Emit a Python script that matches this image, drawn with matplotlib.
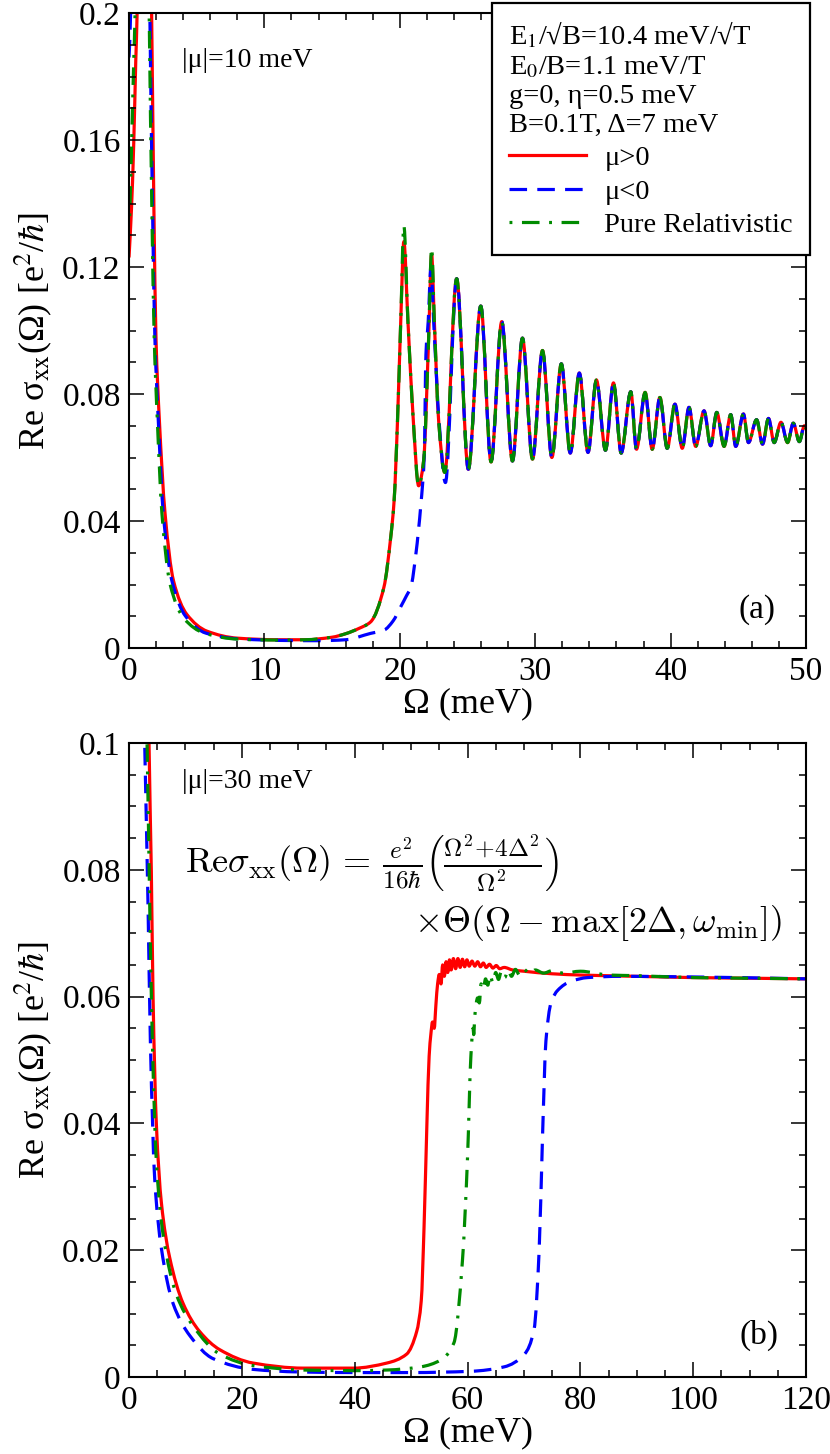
import matplotlib
matplotlib.use('Agg')
import matplotlib.pyplot as plt
from matplotlib.lines import Line2D
from matplotlib.path import Path
from matplotlib.patches import PathPatch
from matplotlib.ticker import MultipleLocator, FuncFormatter

plt.rcParams['font.family'] = ['Liberation Serif', 'DejaVu Serif']
plt.rcParams['mathtext.fontset'] = 'stix'

# ---- panel (a): |mu| = 10 meV ----
# shared Landau-level oscillation tail (peaks / troughs)
osc_x = [24.2, 25.06, 25.98, 26.74, 27.53, 28.32, 29.06, 29.8, 30.54, 31.23,
         31.93, 32.59, 33.26, 33.9, 34.52, 35.19, 35.78, 36.35, 37.06, 37.48,
         38.12, 38.64, 39.21, 39.75, 40.32, 40.86, 41.36, 41.85, 42.47, 42.96,
         43.41, 43.95, 44.44, 44.81, 45.38, 45.75, 46.35, 46.79, 47.23, 47.65,
         48.15, 48.64, 49.06, 49.51, 49.88, 50.0]
osc_y = [0.1163, 0.0563, 0.1077, 0.0586, 0.1028, 0.0589, 0.0976, 0.0595, 0.0937, 0.0600,
         0.0895, 0.0614, 0.0866, 0.0616, 0.0844, 0.0623, 0.0835, 0.0614, 0.0807, 0.0626,
         0.0805, 0.0626, 0.0789, 0.0629, 0.0768, 0.0629, 0.0758, 0.0635, 0.0747, 0.0637,
         0.0742, 0.0635, 0.0735, 0.0635, 0.0737, 0.0647, 0.0719, 0.0642, 0.0723, 0.0647,
         0.0711, 0.0647, 0.0708, 0.0650, 0.0700, 0.0690]

a_pos_x = [0.0, 0.18, 0.35, 0.5, 0.6, 0.65, 1.62, 1.67, 1.84, 1.99, 2.24, 2.66, 3.28,
           4.27, 5.76, 8.0, 11.0, 13.0, 15.0, 16.0, 17.0, 17.84, 18.83, 19.33, 19.58,
           19.83, 20.07, 20.3, 20.6, 21.0, 21.39, 21.76, 22.13, 22.35, 22.55, 22.87, 23.32]
a_pos_y = [0.123, 0.138, 0.159, 0.185, 0.200, 0.215, 0.215, 0.200, 0.138, 0.098, 0.072, 0.0425, 0.0213,
           0.0106, 0.0053, 0.0031, 0.0026, 0.0026, 0.0034, 0.0045, 0.0062, 0.0082, 0.0192, 0.0349, 0.0464,
           0.0715, 0.103, 0.128, 0.103, 0.0715, 0.0511, 0.059, 0.0976, 0.124, 0.103, 0.0715, 0.0553]

a_neg_x = [0.0, 0.12, 0.16, 1.50, 1.54, 1.74, 1.91, 2.16, 2.53, 3.16, 4.18, 5.67, 8.0,
           11.0, 14.0, 16.0, 17.84, 18.83, 19.5, 20.07, 20.5, 20.82, 21.19, 21.56, 21.81,
           21.93, 22.1, 22.3, 22.5, 22.9, 23.37]
a_neg_y = [0.186, 0.200, 0.215, 0.215, 0.200, 0.138, 0.098, 0.072, 0.0425, 0.0213, 0.0100, 0.0047, 0.0029,
           0.0024, 0.0023, 0.0026, 0.0046, 0.0056, 0.0085, 0.013, 0.0165, 0.0192, 0.0297, 0.0454, 0.061,
           0.0924, 0.103, 0.120, 0.103, 0.0715, 0.0521]

a_rel_x = [0.05, 0.2, 0.35, 0.45, 0.5, 1.45, 1.49, 1.69, 1.86, 2.09, 2.43, 3.04, 4.06,
           5.55, 8.0, 11.0, 13.0, 15.0, 16.0, 17.0, 17.84, 18.83, 19.33, 19.58, 19.83,
           20.07, 20.3, 20.6, 21.0, 21.39, 21.76, 22.13, 22.35, 22.55, 22.87, 23.32]
a_rel_y = [0.136, 0.160, 0.185, 0.200, 0.215, 0.215, 0.200, 0.138, 0.098, 0.072, 0.0425, 0.020, 0.0093,
           0.0047, 0.0028, 0.0025, 0.0026, 0.0034, 0.0045, 0.0062, 0.0082, 0.0192, 0.0349, 0.0464, 0.0715,
           0.103, 0.133, 0.103, 0.0715, 0.0511, 0.059, 0.0976, 0.126, 0.103, 0.0715, 0.0553]

# ---- panel (b): |mu| = 30 meV ----
b_pos_x = [3.45, 3.55, 3.96, 4.26, 4.85, 5.74, 7.22, 9.59, 12.5, 16.1, 22.0, 30.9, 39.8,
           45.7, 49.2, 51.0, 51.8, 52.3, 52.8, 53.2, 53.5, 53.8, 54.1, 54.4, 54.7,
           55.0, 55.3, 55.6, 55.9, 56.2, 56.5, 56.8, 57.1, 57.5, 57.9, 58.3, 58.7,
           59.1, 59.5, 59.9, 60.3, 60.8, 61.3, 61.8, 62.3, 62.8, 63.3, 63.9, 64.5,
           65.1, 65.7, 66.5, 68.0, 70.0, 75.0, 80.0, 90.0, 100.0, 110.0, 120.0]
b_pos_y = [0.108, 0.100, 0.0797, 0.0601, 0.0399, 0.0275, 0.0188, 0.0116, 0.0072, 0.0043, 0.0022, 0.0014, 0.0014,
           0.0022, 0.0036, 0.0072, 0.012, 0.0237, 0.0398, 0.0506, 0.054, 0.056, 0.055, 0.0587, 0.062,
           0.0635, 0.0620, 0.0650, 0.0632, 0.0655, 0.0638, 0.0658, 0.0642, 0.0660, 0.0644, 0.0660, 0.0646,
           0.0659, 0.0647, 0.0658, 0.0648, 0.0656, 0.0648, 0.0655, 0.0647, 0.0653, 0.0646, 0.0651, 0.0645,
           0.0649, 0.0644, 0.0646, 0.0642, 0.0640, 0.0636, 0.0634, 0.0632, 0.0630, 0.0629, 0.0628]

b_neg_x = [2.6, 2.78, 3.37, 3.79, 4.56, 5.74, 7.81, 10.8, 14.9, 22.0, 30.0, 40.0, 50.0,
           60.6, 66.5, 70.1, 71.8, 72.7, 73.3, 73.9, 74.8, 76.0, 78.3, 81.3, 87.2, 100.0, 120.0]
b_neg_y = [0.108, 0.100, 0.0746, 0.0529, 0.0312, 0.0203, 0.0116, 0.0065, 0.0029, 0.0012, 0.0008, 0.0007, 0.0007,
           0.0009, 0.0016, 0.0036, 0.0075, 0.020, 0.038, 0.0530, 0.0590, 0.0610, 0.0624, 0.0630, 0.0632, 0.0631, 0.0628]

b_rel_x = [3.0, 3.2, 3.67, 4.14, 4.85, 6.04, 8.4, 11.4, 16.1, 22.0, 30.9, 40.0, 45.7,
           51.7, 55.3, 57.6, 59.1, 60.0, 60.6, 61.0, 61.1, 61.3, 61.8, 62.1, 62.4,
           62.8, 63.2, 63.6, 64.0, 64.5, 65.0, 65.5, 66.0, 66.6, 67.2, 67.8, 68.5,
           69.2, 70.0, 71.0, 72.0, 73.5, 75.0, 77.0, 80.0, 85.0, 90.0, 100.0, 110.0, 120.0]
b_rel_y = [0.108, 0.100, 0.0746, 0.0529, 0.034, 0.0225, 0.013, 0.008, 0.0036, 0.0018, 0.0011, 0.0010, 0.0011,
           0.0016, 0.0027, 0.0054, 0.0183, 0.0345, 0.0506, 0.055, 0.054, 0.057, 0.0598, 0.059, 0.062,
           0.0612, 0.0628, 0.0618, 0.0634, 0.0622, 0.0638, 0.0627, 0.0640, 0.0630, 0.0642, 0.0632, 0.0643,
           0.0634, 0.0643, 0.0636, 0.0642, 0.0637, 0.0641, 0.0637, 0.0640, 0.0634, 0.0633, 0.0630, 0.0629, 0.0628]

legend_lines = ['E$_1$/√B=10.4 meV/√T',
                'E$_0$/B=1.1 meV/T',
                'g=0, η=0.5 meV',
                'B=0.1T, Δ=7 meV']
series_labels = ['μ>0', 'μ<0', 'Pure Relativistic']

RED = '#ff0000'
BLUE = '#0000ff'
GREEN = '#008b00'
LW = 2.3
styles = [dict(color=RED, lw=LW, ls='-'),
          dict(color=BLUE, lw=LW, ls=(0, (5.5, 3.2))),
          dict(color=GREEN, lw=LW, ls=(0, (0.9, 3.0, 5.5, 3.0)))]


def smooth_curve(ax, xs, ys, style):
    # join the read points with monotone cubic segments (pchip-type tangents)
    n = len(xs)
    h = [xs[i + 1] - xs[i] for i in range(n - 1)]
    d = [(ys[i + 1] - ys[i]) / h[i] for i in range(n - 1)]
    m = [d[0]] + [0.0] * (n - 2) + [d[-1]]
    for i in range(1, n - 1):
        if d[i - 1] * d[i] > 0:
            w1 = 2 * h[i] + h[i - 1]
            w2 = h[i] + 2 * h[i - 1]
            m[i] = (w1 + w2) / (w1 / d[i - 1] + w2 / d[i])
    verts = [(xs[0], ys[0])]
    codes = [Path.MOVETO]
    for i in range(n - 1):
        verts += [(xs[i] + h[i] / 3, ys[i] + m[i] * h[i] / 3),
                  (xs[i + 1] - h[i] / 3, ys[i + 1] - m[i + 1] * h[i] / 3),
                  (xs[i + 1], ys[i + 1])]
        codes += [Path.CURVE4] * 3
    patch = PathPatch(Path(verts, codes), fill=False, edgecolor=style['color'],
                      lw=style['lw'], ls=style['ls'], joinstyle='round', capstyle='butt')
    ax.add_patch(patch)


fig = plt.figure(figsize=(8.3, 14.54), dpi=100)
ax1 = fig.add_axes([129 / 830, 1 - 648 / 1454, 677 / 830, 635 / 1454])
ax2 = fig.add_axes([129 / 830, 1 - 1377 / 1454, 677 / 830, 634 / 1454])

smooth_curve(ax1, a_pos_x + osc_x, a_pos_y + osc_y, styles[0])
smooth_curve(ax1, a_neg_x + osc_x, a_neg_y + osc_y, styles[1])
smooth_curve(ax1, a_rel_x + osc_x, a_rel_y + osc_y, styles[2])

smooth_curve(ax2, b_pos_x, b_pos_y, styles[0])
smooth_curve(ax2, b_neg_x, b_neg_y, styles[1])
smooth_curve(ax2, b_rel_x, b_rel_y, styles[2])

fmt = FuncFormatter(lambda v, p: '%g' % round(v, 4))
ylabel = r'Re σ$_{\rm xx}$(Ω) [e$^{2}$/$\hbar$]'

for ax, xmax, ymax, xmaj, xmin_, ymaj, ymin_ in [(ax1, 50, 0.2, 10, 2, 0.04, 0.01),
                                               (ax2, 120, 0.1, 20, 5, 0.02, 0.005)]:
    ax.set_xlim(0, xmax)
    ax.set_ylim(0, ymax)
    ax.xaxis.set_major_locator(MultipleLocator(xmaj))
    ax.xaxis.set_minor_locator(MultipleLocator(xmin_))
    ax.yaxis.set_major_locator(MultipleLocator(ymaj))
    ax.yaxis.set_minor_locator(MultipleLocator(ymin_))
    ax.xaxis.set_major_formatter(fmt)
    ax.yaxis.set_major_formatter(fmt)
    ax.tick_params(which='both', direction='in', top=True, right=True, width=1.1,
                   labelsize=24, pad=6)
    ax.tick_params(which='major', length=11)
    ax.tick_params(which='minor', length=5)
    for s in ax.spines.values():
        s.set_linewidth(1.5)
    ax.set_xlabel('Ω (meV)', fontsize=26, labelpad=0)
    ax.set_ylabel(ylabel, fontsize=26, labelpad=6)

ax1.text(0.078, 0.925, '|μ|=10 meV', transform=ax1.transAxes, fontsize=20, va='center')
ax1.text(0.928, 0.06, '(a)', transform=ax1.transAxes, fontsize=24, ha='center', va='center')
ax2.text(0.078, 0.94, '|μ|=30 meV', transform=ax2.transAxes, fontsize=20, va='center')
ax2.text(0.93, 0.065, '(b)', transform=ax2.transAxes, fontsize=24, ha='center', va='center')

ax2.text(0.083, 0.81,
         r'$\mathrm{Re}\sigma_{\mathrm{xx}}(\Omega)\,=\,\frac{e^2}{16\hbar}\left(\frac{\Omega^2\!+\!4\Delta^2}{\Omega^2}\right)$',
         transform=ax2.transAxes, fontsize=26, va='center', math_fontfamily='cm')
ax2.text(0.9645, 0.716, r'$\times\Theta(\Omega-\max[2\Delta,\omega_{\min}])$',
         transform=ax2.transAxes, fontsize=26, va='center', ha='right', math_fontfamily='cm')

handles = [Line2D([], [], **st) for st in styles]
leg = ax1.legend(handles, series_labels, title='\n'.join(legend_lines),
                 loc='upper right', bbox_to_anchor=(1.006, 1.0157), fontsize=20.5,
                 title_fontsize=20.5, alignment='left', frameon=True, fancybox=False,
                 edgecolor='black', framealpha=1, handlelength=2.7, handletextpad=0.65,
                 borderpad=0.6, labelspacing=0.26, borderaxespad=0)
leg.get_frame().set_linewidth(1.6)
leg._legend_box.align = 'left'

fig.savefig('out.png', dpi=100)
